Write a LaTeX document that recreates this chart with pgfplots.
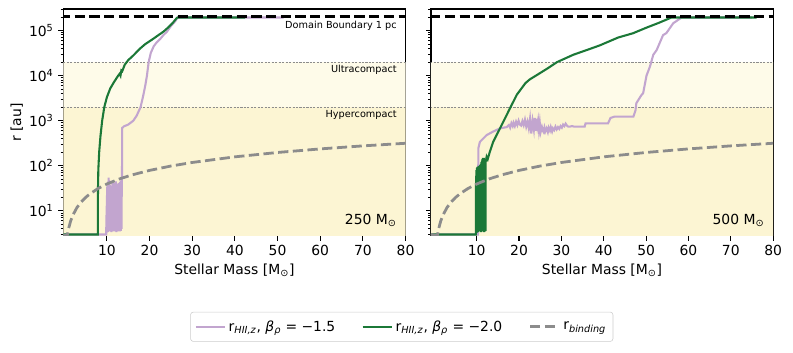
\documentclass[border=0pt]{standalone}
\usepackage{fontspec}
\setmainfont{DejaVu Sans}
\usepackage{pgfplots}
\usepackage{pgfplotstable}
\pgfplotsset{compat=1.18}
\definecolor{cpurple}{HTML}{C2A5CF}
\definecolor{cgreen}{HTML}{1B7837}
\definecolor{cgray}{HTML}{8C8C8C}
\definecolor{hyper}{HTML}{FCF5D3}
\definecolor{ultra}{HTML}{FEFBE9}

\pgfplotstableread{
m r
-0.8 3
0.7 2.77
1 3.95
1.5 5.9
2 7.9
3 11.9
4 15.8
5 19.8
6 23.7
8 31.6
10 39.5
13 51.4
16 63.2
20 79
25 98.8
30 118.5
40 158
50 197.5
60 237
70 276.5
80 316
}\binding

\begin{document}
\begin{tikzpicture}
\path[use as bounding box] (0,0) rectangle (571pt,254pt);
% ---------------- left panel: 250 Msun
\begin{axis}[
  at={(45.6pt,84.2pt)}, anchor=south west,
  scale only axis, width=246.4pt, height=163.3pt,
  ymode=log, xmin=-0.2, xmax=80, ymin=2.8, ymax=3e5,
  axis line style={line width=0.8pt},
  tick align=outside, xtick pos=bottom, ytick pos=left,
  major tick length=3.5pt, minor tick length=2pt,
  major tick style={line width=0.8pt,black},
  minor tick style={line width=0.6pt,black},
  xtick={10,20,30,40,50,60,70,80},
  ytick={10,100,1000,10000,100000},
  minor ytick={3,4,5,6,7,8,9,20,30,40,50,60,70,80,90,200,300,400,500,600,700,800,900,2000,3000,4000,5000,6000,7000,8000,9000,20000,30000,40000,50000,60000,70000,80000,90000,200000,300000},
  tick label style={font=\fontsize{10}{12}\selectfont},
  yticklabels={10\textsuperscript{1},10\textsuperscript{2},10\textsuperscript{3},10\textsuperscript{4},10\textsuperscript{5}},
  xlabel={Stellar Mass [M\textsubscript{⊙}]},
  xlabel style={font=\fontsize{10}{12}\selectfont, at={(axis description cs:0.5,0)}, anchor=center, yshift=-24.5pt},
  ylabel={r [au]},
  ylabel style={font=\fontsize{10}{12}\selectfont, at={(axis description cs:-0.136,0.5)}, anchor=center},
  legend style={at={(0.989,-0.401)}, anchor=center, draw=black!20, rounded corners=2pt,
    font=\fontsize{10}{12}\selectfont, inner ysep=4pt},
  legend columns=3,
  legend image code/.code={\draw[#1] (0pt,0pt) -- (21pt,0pt);},
  /pgf/number format/assume math mode=true,
]
\addplot[draw=none, fill=hyper, forget plot] coordinates {(-1,1) (81,1) (81,2000) (-1,2000) (-1,1)};
\addplot[draw=none, fill=ultra, forget plot] coordinates {(-1,2000) (81,2000) (81,20000) (-1,20000) (-1,2000)};
\addplot[black!45, line width=0.5pt, dash pattern=on 1.5pt off 1pt, forget plot] coordinates {(-1,20000) (81,20000)};
\addplot[black!45, line width=0.5pt, dash pattern=on 1.5pt off 1pt, forget plot] coordinates {(-1,2000) (81,2000)};
% purple beta=-1.5
\addplot[cpurple, line width=1.5pt] coordinates {
(-0.2,3) (9.85,3) (9.9,8) (9.95,3.3) (10.0,22) (10.05,3.5) (10.1,35) (10.15,4) (10.2,28) (10.25,3.4)
(10.3,40) (10.35,5) (10.4,55) (10.45,4) (10.5,48) (10.55,3.6) (10.6,30) (10.65,4.5) (10.7,38) (10.75,3.5)
(10.8,25) (10.85,4) (10.9,33) (10.95,5) (11.0,20) (11.05,3.4) (11.1,28) (11.15,4.2) (11.2,36) (11.25,3.6)
(11.3,44) (11.35,5) (11.4,30) (11.45,3.5) (11.5,26) (11.55,4) (11.6,35) (11.65,3.8) (11.7,42) (11.75,4.4)
(11.8,30) (11.85,3.5) (11.9,22) (11.95,4) (12.0,38) (12.05,3.6) (12.1,45) (12.15,5) (12.2,28) (12.25,3.4)
(12.3,33) (12.35,4.2) (12.4,40) (12.45,3.6) (12.5,24) (12.55,4) (12.6,30) (12.65,3.5) (12.7,36) (12.75,4.5)
(12.8,42) (12.85,3.6) (12.9,28) (12.95,4) (13.0,34) (13.05,3.5) (13.1,44) (13.15,4.8) (13.2,38) (13.25,3.6)
(13.3,46) (13.35,5) (13.4,50) (13.45,4) (13.5,52) (13.55,60) (13.6,690)
(14.0,750) (15.0,820) (16.2,1000) (17.0,1300) (17.9,2000) (18.5,3500) (19.0,6000) (19.4,10000)
(19.8,20000) (20.3,32000) (21.0,45000) (21.7,55000) (22.5,65000) (23.3,80000) (24.1,95000)
(25.0,125000) (26.0,160000) (26.6,195000) (51.4,195000)
};
\addlegendentry{r\textsubscript{\textit{HII,z}}, \textit{β}\textsubscript{\textit{ρ}} = −1.5\rule{17pt}{0pt}}
% green beta=-2.0
\addplot[cgreen, line width=1.5pt] coordinates {
(-0.2,3) (7.88,3) (7.92,30) (8.0,80) (8.2,200) (8.5,450) (8.9,1000) (9.4,2000) (10.0,3300) (10.8,5200)
(11.6,7000) (12.5,9500) (13.0,11000) (13.2,10000) (13.4,13000) (13.6,12500) (14.2,17500) (15.0,22000)
(16.2,28000) (17.8,40000) (19.0,50000) (20.5,62000) (22.0,78000) (23.3,95000) (24.5,120000)
(25.5,150000) (26.4,190000) (26.6,195000) (42.4,195000)
};
\addlegendentry{r\textsubscript{\textit{HII,z}}, \textit{β}\textsubscript{\textit{ρ}} = −2.0\rule{17pt}{0pt}}
\addplot[cgray, line width=2pt, dash pattern=on 7.4pt off 3.2pt] table[x=m, y=r] {\binding};
\addlegendentry{r\textsubscript{\textit{binding}}}
\addplot[black, line width=2pt, dash pattern=on 7.4pt off 3.2pt, forget plot] coordinates {(-1,206265) (81,206265)};
\node[anchor=east, inner sep=0pt, font=\fontsize{7}{8.4}\selectfont] at (axis cs:78,1.3e5) {Domain Boundary 1 pc};
\node[anchor=east, inner sep=0pt, font=\fontsize{7}{8.4}\selectfont] at (axis cs:78,1.34e4) {Ultracompact};
\node[anchor=east, inner sep=0pt, font=\fontsize{7}{8.4}\selectfont] at (axis cs:78,1340) {Hypercompact};
\node[anchor=east, inner sep=0pt, font=\fontsize{10}{12}\selectfont] at (axis cs:78,6.2) {250 M\textsubscript{⊙}};
\end{axis}
% ---------------- right panel: 500 Msun
\begin{axis}[
  at={(310.3pt,84.2pt)}, anchor=south west,
  scale only axis, width=246.4pt, height=163.3pt,
  ymode=log, xmin=-0.8, xmax=80, ymin=2.8, ymax=3e5,
  axis line style={line width=0.8pt},
  tick align=outside, xtick pos=bottom, ytick pos=left,
  major tick length=3.5pt, minor tick length=2pt,
  major tick style={line width=0.8pt,black},
  minor tick style={line width=0.6pt,black},
  xtick={10,20,30,40,50,60,70,80},
  ytick={10,100,1000,10000,100000},
  minor ytick={3,4,5,6,7,8,9,20,30,40,50,60,70,80,90,200,300,400,500,600,700,800,900,2000,3000,4000,5000,6000,7000,8000,9000,20000,30000,40000,50000,60000,70000,80000,90000,200000,300000},
  tick label style={font=\fontsize{10}{12}\selectfont},
  yticklabels={},
  xlabel={Stellar Mass [M\textsubscript{⊙}]},
  xlabel style={font=\fontsize{10}{12}\selectfont, at={(axis description cs:0.5,0)}, anchor=center, yshift=-24.5pt},
  /pgf/number format/assume math mode=true,
]
\addplot[draw=none, fill=hyper] coordinates {(-1,1) (81,1) (81,2000) (-1,2000) (-1,1)};
\addplot[draw=none, fill=ultra] coordinates {(-1,2000) (81,2000) (81,20000) (-1,20000) (-1,2000)};
\addplot[black!45, line width=0.5pt, dash pattern=on 1.5pt off 1pt] coordinates {(-1,20000) (81,20000)};
\addplot[black!45, line width=0.5pt, dash pattern=on 1.5pt off 1pt] coordinates {(-1,2000) (81,2000)};
\addplot[cpurple, line width=1.5pt] coordinates {
(-0.8,3) (10.3,3) (10.36,50) (10.4,245) (10.76,340) (12.35,480) (13.9,575) (15.5,676) (16.3,700) (17.1,720) (17.6,800)
(17.9,700) (18.2,880) (18.5,760) (18.7,900) (19.0,760) (19.3,950) (19.6,800) (19.9,1000) (20.2,820) (20.5,780) (20.8,980) (21.1,800) (21.4,1050)
(21.7,740) (22.0,950) (22.3,680) (22.6,1100) (22.9,520) (23.2,980) (23.5,640) (23.7,1150) (23.9,600) (24.1,1100)
(24.3,750) (24.5,1000) (24.7,620) (24.9,900) (25.1,560) (25.4,720) (25.6,600) (25.8,560) (26.0,700) (26.2,580)
(26.5,680) (26.8,560) (27.0,700) (27.3,600) (27.5,720) (27.8,580) (28.0,680) (28.3,620) (28.6,740) (28.9,640)
(29.2,720) (29.5,660) (29.8,760) (30.1,700) (30.4,820) (30.7,760) (31.0,860) (31.3,780) (31.6,740) (32.0,740)
(32.5,760) (33.0,740) (35.5,740) (35.7,870) (41.0,870) (41.6,1150) (42.5,1230) (47.0,1230) (47.5,1700)
(47.7,2450) (48.9,3700) (49.3,4070) (50.1,10000) (50.9,15800) (51.7,29000) (52.5,37000) (54.0,79000)
(54.8,88000) (56.4,145000) (58.4,195000) (75,195000)
};
\addplot[cgreen, line width=1.5pt] coordinates {
(-0.8,3) (9.8,3) (9.83,40) (9.86,3.2) (9.89,60) (9.92,3.5) (9.95,80) (9.98,4) (10.01,70) (10.04,3.3)
(10.07,90) (10.1,5) (10.13,85) (10.16,3.5) (10.19,95) (10.22,4) (10.25,75) (10.28,3.4) (10.31,88) (10.34,4.5)
(10.37,92) (10.4,3.6) (10.43,80) (10.46,5) (10.49,100) (10.52,3.5) (10.55,86) (10.58,4) (10.61,95) (10.64,3.8)
(10.67,82) (10.7,4.4) (10.73,98) (10.76,3.5) (10.79,90) (10.82,4) (10.85,105) (10.88,3.6) (10.91,88) (10.94,5)
(10.97,110) (11.0,3.4) (11.03,95) (11.06,4.2) (11.09,120) (11.12,3.6) (11.15,100) (11.18,5) (11.21,130) (11.24,3.5)
(11.27,110) (11.3,4) (11.33,140) (11.36,3.8) (11.39,115) (11.42,4.4) (11.45,150) (11.48,3.5) (11.51,120) (11.54,4)
(11.57,145) (11.6,3.6) (11.63,125) (11.66,5) (11.69,150) (11.72,3.4) (11.75,130) (11.78,4.2) (11.81,140) (11.84,3.6)
(11.87,120) (11.9,4) (11.93,135) (11.96,3.5) (11.99,125) (12.02,4.5) (12.05,140) (12.08,3.6) (12.1,120)
(12.35,158) (12.6,140) (13.1,204) (13.9,340) (15.5,676) (17.1,1350) (18.0,2000) (19.5,3800) (21.5,6800)
(22.5,8200) (24.9,11300) (27.0,15000) (29.0,20000) (32.8,29000) (36.7,39000) (39.1,47000)
(43.4,70000) (46.9,87000) (50.0,115000) (53.0,148000) (56.0,195000) (76.1,195000)
};
\addplot[cgray, line width=2pt, dash pattern=on 7.4pt off 3.2pt] table[x=m, y=r] {\binding};
\addplot[black, line width=2pt, dash pattern=on 7.4pt off 3.2pt] coordinates {(-1,206265) (81,206265)};
\node[anchor=east, inner sep=0pt, font=\fontsize{10}{12}\selectfont] at (axis cs:78,6.2) {500 M\textsubscript{⊙}};
\end{axis}
\end{tikzpicture}
\end{document}
